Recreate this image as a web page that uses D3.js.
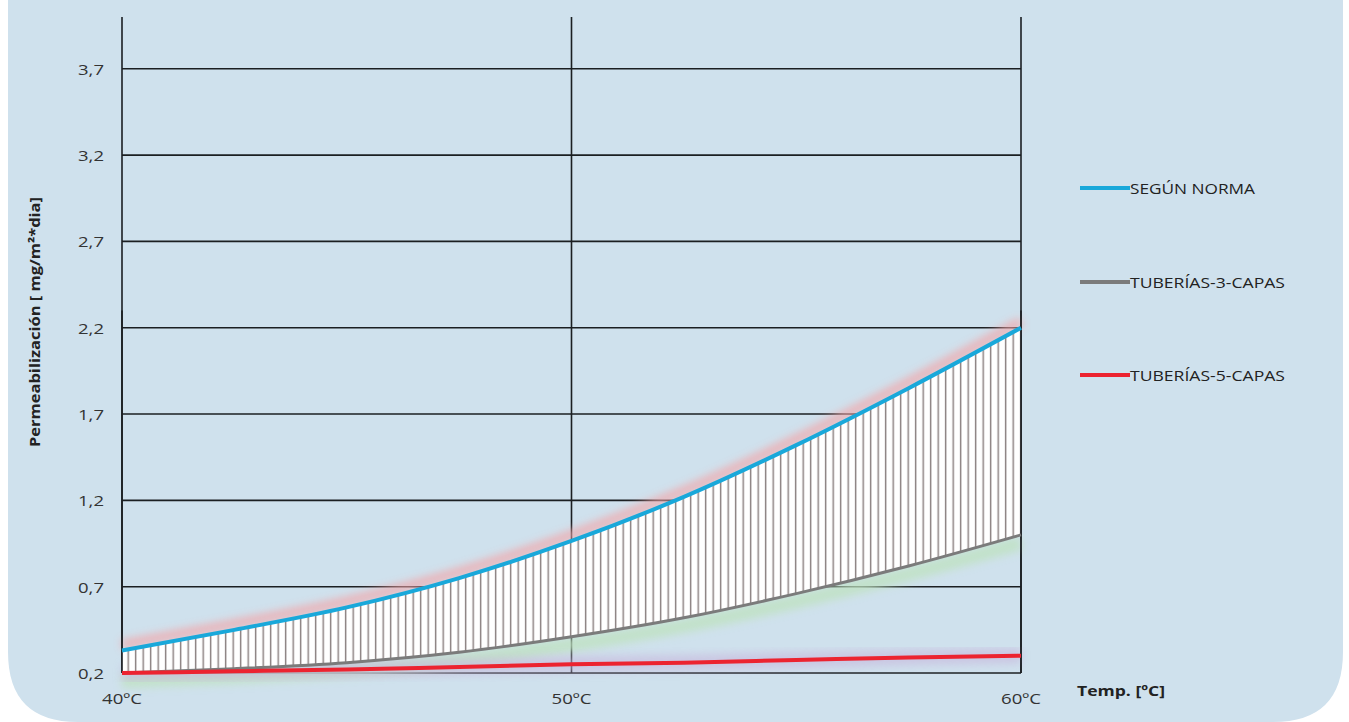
<!DOCTYPE html>
<html><head><meta charset="utf-8">
<script src="https://cdn.jsdelivr.net/npm/d3@7"></script>
<style>html,body{margin:0;padding:0;background:#fff;}svg{display:block;}</style>
</head><body>
<svg id="chart" width="1349" height="722"></svg>
<script>
const temps = [40, 42.5, 45, 47.5, 50, 52.5, 55, 57.5, 60];
const segunNorma = [0.33, 0.45, 0.58, 0.75, 0.965, 1.22, 1.52, 1.85, 2.2];
const tuberias3 = [0.2, 0.225, 0.26, 0.32, 0.41, 0.52, 0.66, 0.82, 1.0];
const tuberias5 = [0.2, 0.21, 0.22, 0.235, 0.25, 0.26, 0.275, 0.29, 0.3];
const yTicks = [0.2, 0.7, 1.2, 1.7, 2.2, 2.7, 3.2, 3.7];
const xTicks = [40, 50, 60];
const xTickLabels = ["40ºC", "50ºC", "60ºC"];
const seriesNames = ["SEGÚN NORMA", "TUBERÍAS-3-CAPAS", "TUBERÍAS-5-CAPAS"];
const seriesColors = ["#19a8da", "#7b7b7b", "#ec2330"];

const FONT = "Open Sans, sans-serif";
const svg = d3.select("#chart");
const defs = svg.append("defs");
defs.append("filter").attr("id","blur").attr("x","-10%").attr("y","-50%").attr("width","120%").attr("height","200%")
  .append("feGaussianBlur").attr("stdDeviation", 4);
const pat = defs.append("pattern").attr("id","hatch").attr("patternUnits","userSpaceOnUse")
  .attr("width", 7.5).attr("height", 10).attr("x", 122);
pat.append("rect").attr("width", 7.5).attr("height", 10).attr("fill", "#ffffff");
pat.append("rect").attr("x", 5.5).attr("width", 1.4).attr("height", 10).attr("fill", "#867b7b");

// card background
svg.append("path")
  .attr("d", "M8,-20 L1343,-20 L1343,652 Q1343,722 1273,722 L78,722 Q8,722 8,652 Z")
  .attr("fill", "#cfe1ed");

const x = d3.scaleLinear().domain([40, 60]).range([122, 1021]);
const y = d3.scaleLinear().domain([0.2, 4.0]).range([673, 17]);

const line = d3.line().x((d,i)=>x(temps[i])).y(d=>y(d)).curve(d3.curveMonotoneX);

// grid
const g = svg.append("g");
g.selectAll(".hg").data(yTicks).join("line")
  .attr("x1", x(40)).attr("x2", x(60)).attr("y1", d=>y(d)).attr("y2", d=>y(d))
  .attr("stroke", "#1b1f22").attr("stroke-width", 1.6);
g.selectAll(".vg").data(xTicks).join("line")
  .attr("x1", d=>x(d)).attr("x2", d=>x(d)).attr("y1", y(4.0)).attr("y2", y(0.2))
  .attr("stroke", "#1b1f22").attr("stroke-width", 1.6);

// glows
svg.append("path").datum(segunNorma).attr("d", line).attr("transform","translate(0,-6)")
  .attr("fill","none").attr("stroke","#f3a5a8").attr("stroke-width",9).attr("opacity",0.8).attr("filter","url(#blur)");
svg.append("path").datum(tuberias3).attr("d", line).attr("transform","translate(0,8)")
  .attr("fill","none").attr("stroke","#bfe2c0").attr("stroke-width",14).attr("opacity",0.8).attr("filter","url(#blur)");
svg.append("path").datum(tuberias5).attr("d", line)
  .attr("fill","none").attr("stroke","#c7b6dc").attr("stroke-width",16).attr("opacity",0.6).attr("filter","url(#blur)");

// hatched band (over the grid)
const area = d3.area().x((d,i)=>x(temps[i])).y0((d,i)=>y(tuberias3[i])).y1(d=>y(d)).curve(d3.curveMonotoneX);
svg.append("path").datum(segunNorma).attr("d", area).attr("fill","url(#hatch)");

// border verticals on top
svg.selectAll(".vb").data([40, 60]).join("line")
  .attr("x1", d=>x(d)).attr("x2", d=>x(d)).attr("y1", y(2.3)).attr("y2", y(0.2))
  .attr("stroke", "#1b1f22").attr("stroke-width", 1.6);

// series lines
[tuberias3, tuberias5, segunNorma].forEach((s, k) => {
  const ci = [1,2,0][k];
  svg.append("path").datum(s).attr("d", line).attr("fill","none")
    .attr("stroke", seriesColors[ci]).attr("stroke-width", ci===1 ? 3 : 4);
});

function stretchText(sel, len) {
  sel.attr("textLength", len).attr("lengthAdjust", "spacingAndGlyphs");
}

// tick labels
svg.selectAll(".yl").data(yTicks).join("text")
  .attr("x", 104).attr("y", d=>y(d)+6).attr("text-anchor","end")
  .attr("font-family",FONT).attr("font-size",15).attr("fill","#333")
  .text(d=>d3.format(".1f")(d).replace(".", ","))
  .call(stretchText, 26);
svg.selectAll(".xl").data(xTicks).join("text")
  .attr("x", d=>x(d)).attr("y", 704).attr("text-anchor","middle")
  .attr("font-family",FONT).attr("font-size",15).attr("fill","#333")
  .text((d,i)=>xTickLabels[i])
  .call(stretchText, 40);

// axis titles
svg.append("text").attr("transform","translate(40,322) rotate(-90)").attr("text-anchor","middle")
  .attr("font-family",FONT).attr("font-size",14.5).attr("font-weight","bold").attr("fill","#222")
  .text("Permeabilización [ mg/m²*dia]")
  .call(stretchText, 250);
svg.append("text").attr("x",1077).attr("y",696)
  .attr("font-family",FONT).attr("font-size",15).attr("font-weight","bold").attr("fill","#222")
  .text("Temp. [ºC]")
  .call(stretchText, 88);

// legend
const legY = [188, 282, 375];
const legW = [125, 155, 155];
const leg = svg.append("g");
seriesNames.forEach((n,i)=>{
  leg.append("line").attr("x1",1080).attr("x2",1130).attr("y1",legY[i]).attr("y2",legY[i])
    .attr("stroke",seriesColors[i]).attr("stroke-width",4);
  leg.append("text").attr("x",1130).attr("y",legY[i]+6)
    .attr("font-family",FONT).attr("font-size",14).attr("fill","#222").text(n)
    .call(stretchText, legW[i]);
});
</script>
</body></html>
